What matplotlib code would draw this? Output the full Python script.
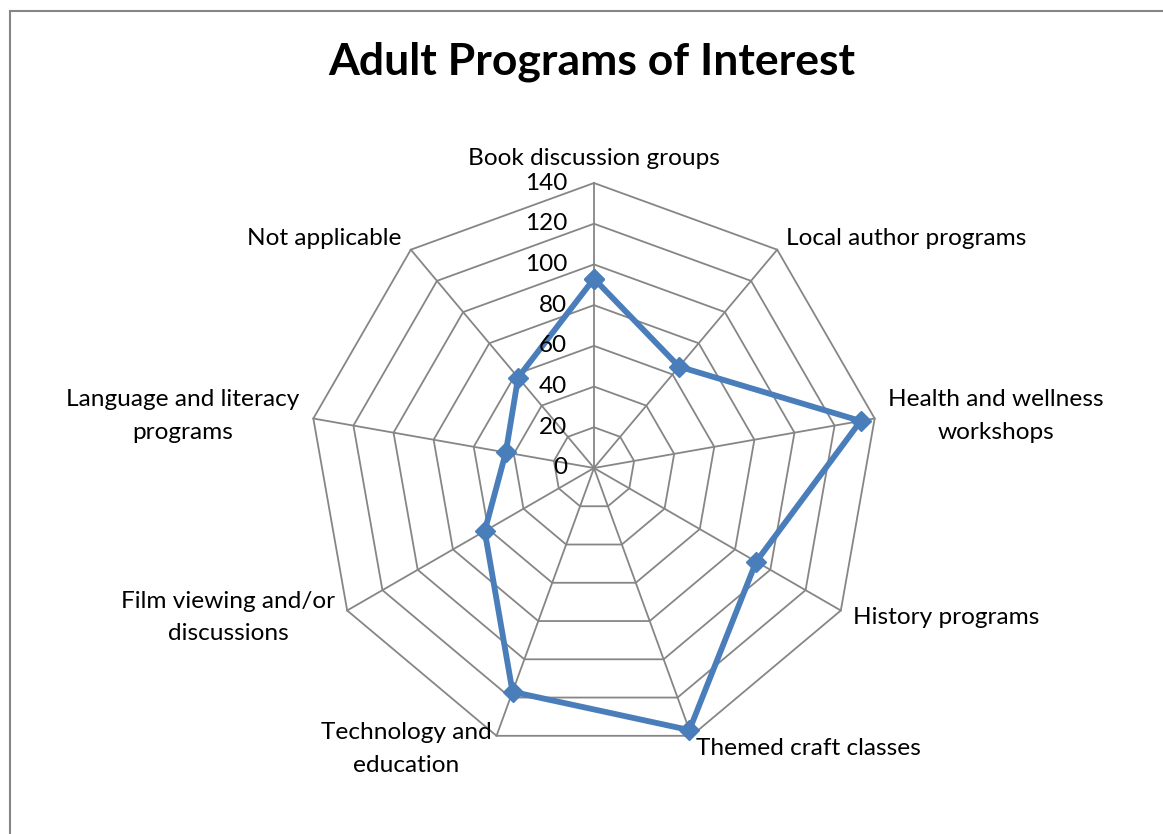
import numpy as np
import matplotlib
matplotlib.use("Agg")
import matplotlib.pyplot as plt
from matplotlib.patches import Rectangle

# ---- data ----
categories = [
    "Book discussion groups",
    "Local author programs",
    "Health and wellness\nworkshops",
    "History programs",
    "Themed craft classes",
    "Technology and\neducation",
    "Film viewing and/or\ndiscussions",
    "Language and literacy\nprograms",
    "Not applicable",
]
values = [93, 65, 133, 92, 137, 117, 62, 44, 58]
r_ticks = [0, 20, 40, 60, 80, 100, 120, 140]
title = "Adult Programs of Interest"

plt.rcParams['font.family'] = ['Lato', 'DejaVu Sans']

W, H = 1163, 834
fig = plt.figure(figsize=(W / 100, H / 100), dpi=100)
fig.patch.set_facecolor('white')

# chart-area border (cropped on right/bottom)
fig.patches.append(Rectangle((10 / W, -0.05), 1.2, (H - 11) / H + 0.05,
                             transform=fig.transFigure, fill=False,
                             edgecolor='#868686', linewidth=1.5))

cx, cy, R = 594, 468, 285
ax = fig.add_axes([(cx - R) / W, (H - cy - R) / H, 2 * R / W, 2 * R / H],
                  projection='polar')
ax.set_theta_zero_location('N')
ax.set_theta_direction(-1)
ax.set_ylim(0, r_ticks[-1])
ax.grid(False)
ax.spines['polar'].set_visible(False)
ax.set_xticks([])
ax.set_yticks([])
ax.patch.set_visible(False)

n = len(categories)
theta = np.arange(n) * 2 * np.pi / n
theta_c = np.append(theta, theta[0])

grid_color = '#868686'
for lv in r_ticks[1:]:
    ax.plot(theta_c, [lv] * (n + 1), color=grid_color, lw=1.3, zorder=1,
            clip_on=False)
for t in theta:
    ax.plot([t, t], [0, r_ticks[-1]], color=grid_color, lw=1.3, zorder=1,
            clip_on=False)

vals_c = np.append(values, values[0])
ax.plot(theta_c, vals_c, color='#4A7EBB', lw=4.2, marker='D', markersize=10,
        markerfacecolor='#4A7EBB', markeredgecolor='#4A7EBB', zorder=3,
        clip_on=False)

# radial tick labels
for lv in r_ticks:
    ax.annotate(str(lv), xy=(0, lv), xytext=(-27, 0), textcoords='offset pixels',
                ha='right', va='center', fontsize=17.5, color='black',
                annotation_clip=False)

# category labels
off = 14
for t, lab in zip(theta, categories):
    s, c = np.sin(t), np.cos(t)
    if s > 0.01:
        ha = 'left'
    elif s < -0.01:
        ha = 'right'
    else:
        ha = 'center'
    va = 'bottom' if c > 0.99 else 'center'
    ax.annotate(lab, xy=(t, r_ticks[-1]), xytext=(off * s, off * c),
                textcoords='offset pixels', ha=ha, va=va, fontsize=17.6,
                multialignment='center', linespacing=1.7,
                annotation_clip=False)

fig.text(592 / W, 1 - 62 / H, title, ha='center', va='center',
         fontsize=32, fontweight='bold')

fig.savefig('out.png', dpi=100, facecolor='white')
